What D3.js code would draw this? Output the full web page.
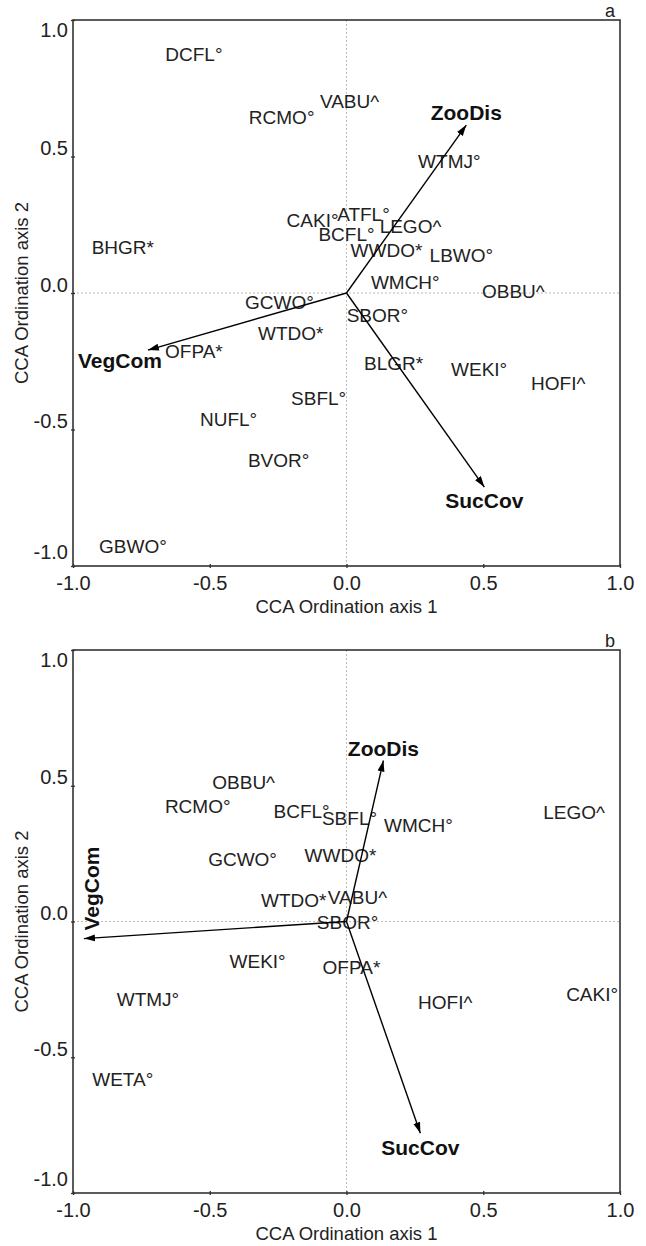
<!DOCTYPE html>
<html>
<head>
<meta charset="utf-8">
<script src="https://d3js.org/d3.v7.min.js"></script>
<style>
  body { margin: 0; background: #fff; }
  svg { font-family: "Liberation Sans", Arial, sans-serif; }
</style>
</head>
<body>
<svg id="viz" width="646" height="1246"></svg>

<script>
// tick values and labels (both panels)
var tickVals = [-1, -0.5, 0, 0.5, 1];
var tickText = ["-1.0", "-0.5", "0.0", "0.5", "1.0"];

// panel a - species scores
var speciesA = ["DCFL°", "RCMO°", "VABU^", "BHGR*", "CAKI°", "ATFL°", "BCFL°", "LEGO^",
                "WWDO*", "LBWO°", "WMCH°", "OBBU^", "WTMJ°", "GCWO°", "WTDO*", "OFPA*",
                "SBOR°", "BLGR*", "WEKI°", "HOFI^", "SBFL°", "NUFL°", "BVOR°", "GBWO°"];
var axis1A = [-0.558, -0.237, 0.011, -0.818, -0.124, 0.062, 0.0, 0.234,
              0.146, 0.42, 0.215, 0.61, 0.376, -0.245, -0.204, -0.558,
              0.113, 0.172, 0.485, 0.774, -0.102, -0.431, -0.248, -0.781];
var axis2A = [0.872, 0.643, 0.70, 0.168, 0.264, 0.286, 0.216, 0.242,
              0.157, 0.139, 0.037, 0.004, 0.48, -0.033, -0.15, -0.216,
              -0.084, -0.26, -0.282, -0.33, -0.388, -0.462, -0.615, -0.93];

// panel b - species scores
var speciesB = ["OBBU^", "RCMO°", "BCFL°", "SBFL°", "WMCH°", "LEGO^", "GCWO°", "WWDO*",
                "WTDO*", "VABU^", "SBOR°", "WEKI°", "OFPA*", "WTMJ°", "HOFI^", "CAKI°", "WETA°"];
var axis1B = [-0.376, -0.544, -0.164, 0.011, 0.263, 0.832, -0.38, -0.022,
              -0.193, 0.04, 0.004, -0.325, 0.018, -0.726, 0.361, 0.898, -0.818];
var axis2B = [0.512, 0.424, 0.405, 0.379, 0.354, 0.401, 0.228, 0.243,
              0.077, 0.088, -0.004, -0.147, -0.17, -0.287, -0.298, -0.269, -0.582];

// environmental vectors
var vectorNames = ["ZooDis", "VegCom", "SucCov"];
var vecA1 = [0.438, -0.726, 0.504];
var vecA2 = [0.615, -0.209, -0.711];
var vecB1 = [0.135, -0.96, 0.27];
var vecB2 = [0.593, -0.063, -0.78];

var svg = d3.select("#viz");

svg.append("defs").append("marker")
    .attr("id", "arrow")
    .attr("viewBox", "0 -4 11 8")
    .attr("refX", 11)
    .attr("refY", 0)
    .attr("markerUnits", "userSpaceOnUse")
    .attr("markerWidth", 11)
    .attr("markerHeight", 8)
    .attr("orient", "auto")
  .append("path")
    .attr("d", "M0,-3.5L11,0L0,3.5Z")
    .attr("fill", "#000");

// label placement for the vector names, per panel
var vecLabelPos = {
  a: { ZooDis: {dx: 0, dy: -5, anchor: "middle"},
       VegCom: {dx: 14, dy: 18, anchor: "end"},
       SucCov: {dx: 0, dy: 21, anchor: "middle"} },
  b: { ZooDis: {dx: 0, dy: -5, anchor: "middle"},
       VegCom: {dx: 15, dy: -8, anchor: "start", rotate: true},
       SucCov: {dx: 0, dy: 22, anchor: "middle"} }
};

function drawPanel(key, top, bottom, names, xs, ys, v1, v2) {
  var left = 73, right = 620;
  var x = d3.scaleLinear().domain([-1, 1]).range([left, right]);
  var y = d3.scaleLinear().domain([-1, 1]).range([bottom, top]);
  var g = svg.append("g");

  // zero lines
  g.append("line")
      .attr("x1", x(0)).attr("x2", x(0)).attr("y1", top).attr("y2", bottom)
      .attr("stroke", "#aaa").attr("stroke-width", 0.8).attr("stroke-dasharray", "2,2");
  g.append("line")
      .attr("x1", left).attr("x2", right).attr("y1", y(0)).attr("y2", y(0))
      .attr("stroke", "#aaa").attr("stroke-width", 0.8).attr("stroke-dasharray", "2,2");

  // frame
  g.append("rect")
      .attr("x", left).attr("y", top)
      .attr("width", right - left).attr("height", bottom - top)
      .attr("fill", "none").attr("stroke", "#333").attr("stroke-width", 1.6);

  // axes
  var xAxis = g.append("g")
      .attr("transform", "translate(0," + (bottom - 2) + ")")
      .call(d3.axisBottom(x).tickValues(tickVals).tickSize(4)
            .tickFormat(function(d, i) { return tickText[i]; }));
  xAxis.select(".domain").remove();
  xAxis.selectAll("line").attr("stroke", "#333").attr("stroke-width", 1.3);
  xAxis.selectAll("text")
      .attr("y", 26).attr("dy", null)
      .attr("font-size", 20).attr("fill", "#222")
      .attr("font-family", "Liberation Sans, Arial, sans-serif");

  var yAxis = g.append("g")
      .attr("transform", "translate(" + (left + 2) + ",0)")
      .call(d3.axisLeft(y).tickValues(tickVals).tickSize(4)
            .tickFormat(function(d, i) { return tickText[i]; }));
  yAxis.select(".domain").remove();
  yAxis.selectAll("line").attr("stroke", "#333").attr("stroke-width", 1.3);
  yAxis.selectAll("text")
      .attr("x", -7).attr("dy", function(d) { return d === 1 ? 16 : (d === -1 ? -8 : -2); })
      .attr("font-size", 20).attr("fill", "#222")
      .attr("font-family", "Liberation Sans, Arial, sans-serif");

  // axis titles
  g.append("text")
      .attr("x", x(0)).attr("y", bottom + 47)
      .attr("text-anchor", "middle").attr("font-size", 18.5).attr("fill", "#222")
      .text("CCA Ordination axis 1");
  g.append("text")
      .attr("transform", "translate(28," + y(0) + ") rotate(-90)")
      .attr("text-anchor", "middle").attr("font-size", 18.5).attr("fill", "#222")
      .text("CCA Ordination axis 2");

  // panel letter
  g.append("text")
      .attr("x", right - 10).attr("y", top - 3)
      .attr("text-anchor", "middle").attr("font-size", 18).attr("fill", "#222")
      .text(key);

  // species labels
  g.selectAll(".sp").data(names).enter().append("text")
      .attr("class", "sp")
      .attr("x", function(d, i) { return x(xs[i]); })
      .attr("y", function(d, i) { return y(ys[i]); })
      .attr("text-anchor", "middle")
      .attr("dominant-baseline", "central")
      .attr("font-size", 19).attr("fill", "#222")
      .text(function(d) { return d; });

  // vectors
  g.selectAll(".vec").data(vectorNames).enter().append("line")
      .attr("class", "vec")
      .attr("x1", x(0)).attr("y1", y(0))
      .attr("x2", function(d, i) { return x(v1[i]); })
      .attr("y2", function(d, i) { return y(v2[i]); })
      .attr("stroke", "#000").attr("stroke-width", 1.4)
      .attr("marker-end", "url(#arrow)");

  g.selectAll(".vlab").data(vectorNames).enter().append("text")
      .attr("class", "vlab")
      .attr("transform", function(d, i) {
        var p = vecLabelPos[key][d];
        var t = "translate(" + (x(v1[i]) + p.dx) + "," + (y(v2[i]) + p.dy) + ")";
        return p.rotate ? t + " rotate(-90)" : t;
      })
      .attr("text-anchor", function(d) { return vecLabelPos[key][d].anchor; })
      .attr("font-size", 21).attr("font-weight", "bold").attr("fill", "#111")
      .text(function(d) { return d; });
}

drawPanel("a", 20, 566, speciesA, axis1A, axis2A, vecA1, vecA2);
drawPanel("b", 650, 1193, speciesB, axis1B, axis2B, vecB1, vecB2);
</script>
</body>
</html>
